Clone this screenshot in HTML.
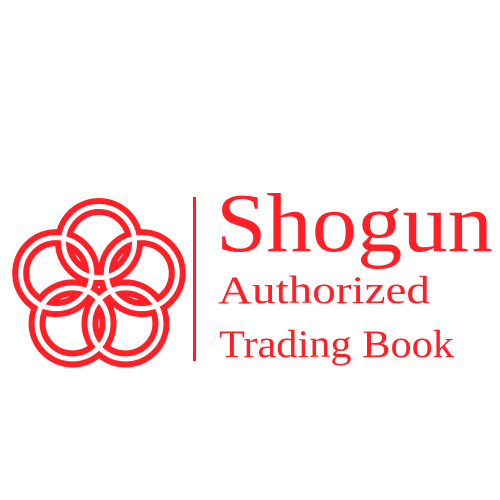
<!DOCTYPE html>
<html><head><meta charset="utf-8"><style>
html,body{margin:0;padding:0;background:#fff;width:500px;height:500px;overflow:hidden}
</style></head><body>
<svg width="500" height="500" viewBox="0 0 500 500">
<rect width="500" height="500" fill="#fff"/>
<g id="knot"></g>
<rect x="193" y="197" width="3" height="164" fill="#ff1f26"/>
<text x="216" y="251" font-family="Liberation Serif, serif" font-size="84" fill="#ff1f26" textLength="277" lengthAdjust="spacingAndGlyphs">Shogun</text>
<text x="218" y="303" font-family="Liberation Serif, serif" font-size="39" fill="#ff1f26" textLength="212" lengthAdjust="spacingAndGlyphs">Authorized</text>
<text x="219" y="357" font-family="Liberation Serif, serif" font-size="39" fill="#ff1f26" textLength="235" lengthAdjust="spacingAndGlyphs">Trading Book</text>
</svg>
<script>
const g=document.getElementById('knot');
const cx=99,cy=287,R=45,r=35.5;
const ns='http://www.w3.org/2000/svg';
for(let i=0;i<5;i++){
  const a=(-90+72*i)*Math.PI/180;
  const x=cx+R*Math.cos(a),y=cy+R*Math.sin(a);
  const c1=document.createElementNS(ns,'circle');
  c1.setAttribute('cx',x);c1.setAttribute('cy',y);c1.setAttribute('r',r);
  c1.setAttribute('fill','none');c1.setAttribute('stroke','#ff1f26');c1.setAttribute('stroke-width','17');
  
  
  g.appendChild(c1);
}
for(let i=0;i<5;i++){
  const a=(-90+72*i)*Math.PI/180;
  const x=cx+R*Math.cos(a),y=cy+R*Math.sin(a);
  const c2=document.createElementNS(ns,'circle');
  c2.setAttribute('cx',x);c2.setAttribute('cy',y);c2.setAttribute('r',r);
  c2.setAttribute('fill','none');c2.setAttribute('stroke','#fff');c2.setAttribute('stroke-width','5');
  
  
  g.appendChild(c2);
}
</script>
</body></html>
